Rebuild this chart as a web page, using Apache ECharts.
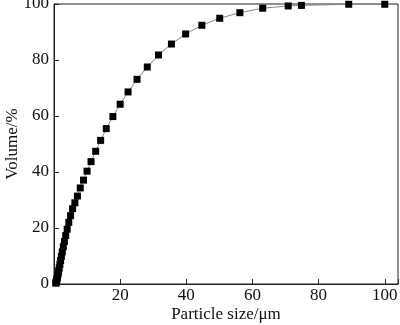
<!DOCTYPE html>
<html>
<head>
<meta charset="utf-8">
<script src="https://cdn.jsdelivr.net/npm/echarts@6/dist/echarts.min.js"></script>
<style>html,body{margin:0;padding:0;background:#fff}#c{width:400px;height:325px}</style>
</head>
<body>
<div id="c"></div>
<script>
var sizes = [0.56,0.63,0.71,0.79,0.89,1.00,1.12,1.26,1.41,1.58,1.78,2.00,2.24,2.51,2.82,3.16,3.55,3.98,4.47,5.01,5.62,6.31,7.08,7.94,8.91,10.0,11.2,12.6,14.1,15.8,17.8,20.0,22.4,25.1,28.2,31.6,35.5,39.8,44.7,50.1,56.2,63.1,70.8,74.8,89.1,100.0];
var volumes = [0.3,0.5,0.8,1.2,1.7,2.3,3.0,3.8,4.7,5.8,7.0,8.4,9.9,11.5,13.3,15.2,17.3,19.6,22.0,24.4,26.9,29.0,31.4,34.3,37.1,40.3,43.7,47.4,51.3,55.5,59.8,64.2,68.6,73.1,77.5,81.8,85.7,89.3,92.4,94.9,96.9,98.5,99.3,99.5,99.9,99.9];
var xTicks = [0,20,40,60,80,100];
var yTicks = [0,20,40,60,80,100];
var xName = 'Particle size/μm';
var yName = 'Volume/%';

var pts = sizes.map(function(s,i){return [s, volumes[i]];});
var font = '"Liberation Serif", "Times New Roman", serif';
var chart = echarts.init(document.getElementById('c'));
chart.setOption({
  animation:false,
  backgroundColor:'#fff',
  grid:{left:54,right:2,top:4,bottom:41,show:true,borderColor:'#222',borderWidth:1,
    containLabel:false,outerBoundsMode:'none'},
  xAxis:{type:'value',min:0,max:104,interval:20,
    name:xName,nameLocation:'middle',nameGap:22,nameMoveOverlap:false,
    nameTextStyle:{fontFamily:font,fontSize:17,color:'#111'},
    axisLine:{lineStyle:{color:'#222',width:1}},
    axisTick:{inside:true,length:5,lineStyle:{color:'#222'}},
    splitLine:{show:false},
    axisLabel:{fontFamily:font,fontSize:17,color:'#111',margin:3,
      formatter:function(v){return (xTicks.indexOf(v)>0)?String(v):'';}}
  },
  yAxis:{type:'value',min:0,max:100,interval:20,
    name:yName,nameLocation:'middle',nameGap:33,nameMoveOverlap:false,
    nameTextStyle:{fontFamily:font,fontSize:17,color:'#111'},
    axisLine:{lineStyle:{color:'#222',width:1}},
    axisTick:{inside:true,length:5,lineStyle:{color:'#222'}},
    splitLine:{show:false},
    axisLabel:{fontFamily:font,fontSize:17,color:'#111',margin:5,
      formatter:function(v){return (yTicks.indexOf(v)>=0)?String(v):'';}}
  },
  series:[{type:'line',data:pts,symbol:'rect',symbolSize:7,
    clip:false,
    itemStyle:{color:'#000'},
    lineStyle:{color:'#888',width:1}}]
});
</script>
</body>
</html>
